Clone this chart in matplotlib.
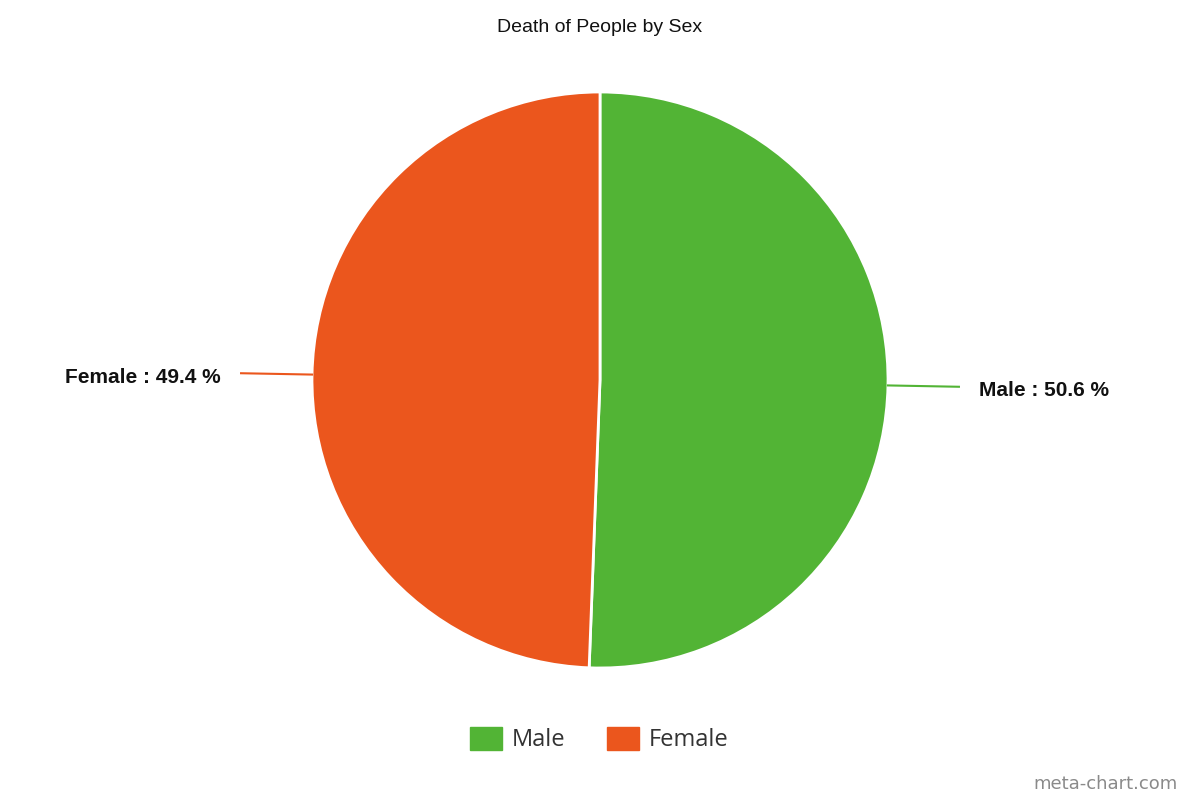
import numpy as np
import matplotlib
matplotlib.use("Agg")
import matplotlib.pyplot as plt
from matplotlib.patches import Rectangle

# data
labels = ["Male", "Female"]
shares = [50.6, 49.4]
colors = ["#52b435", "#eb561d"]
title = "Death of People by Sex"

fig = plt.figure(figsize=(12, 8), dpi=100)
ax = fig.add_axes([0, 0, 1, 1])

cx, cy, r = 600, 420, 288
wedges, _ = ax.pie(shares, colors=colors, startangle=90, counterclock=False,
                   center=(cx, cy), radius=r, frame=True,
                   wedgeprops=dict(edgecolor="white", linewidth=2))
ax.set_xlim(0, 1200)
ax.set_ylim(0, 800)
ax.set_aspect("equal")
ax.axis("off")

# leader lines and labels
for w, lab, val, col in zip(wedges, labels, shares, colors):
    mid = np.deg2rad((w.theta1 + w.theta2) / 2)
    x0, y0 = cx + r * np.cos(mid), cy + r * np.sin(mid)
    x1, y1 = cx + (r + 71) * np.cos(mid), cy + (r + 71) * np.sin(mid)
    ax.plot([x0, x1], [y0, y1], color=col, lw=1.5)
    side = 1 if np.cos(mid) > 0 else -1
    ax.text(x1 + side * 20, y1 - 4, f"{lab} : {val} %", ha="left" if side > 0 else "right",
            va="center", fontsize=15, fontweight="bold", family="Liberation Sans",
            color="#111111")

ax.text(600, 773, title, ha="center", va="center", fontsize=14,
        family="Liberation Sans", color="#111111")

# legend
lx = [470, 607]
for x, lab, col in zip(lx, labels, colors):
    ax.add_patch(Rectangle((x, 50), 32, 23, color=col))
    ax.text(x + 42, 60, lab, ha="left", va="center", fontsize=17,
            family="Open Sans", color="#333333")

ax.text(1178, 16, "meta-chart.com", ha="right", va="center", fontsize=13,
        family="DejaVu Sans", color="#8a8a8a")

fig.savefig("out.png", dpi=100)
